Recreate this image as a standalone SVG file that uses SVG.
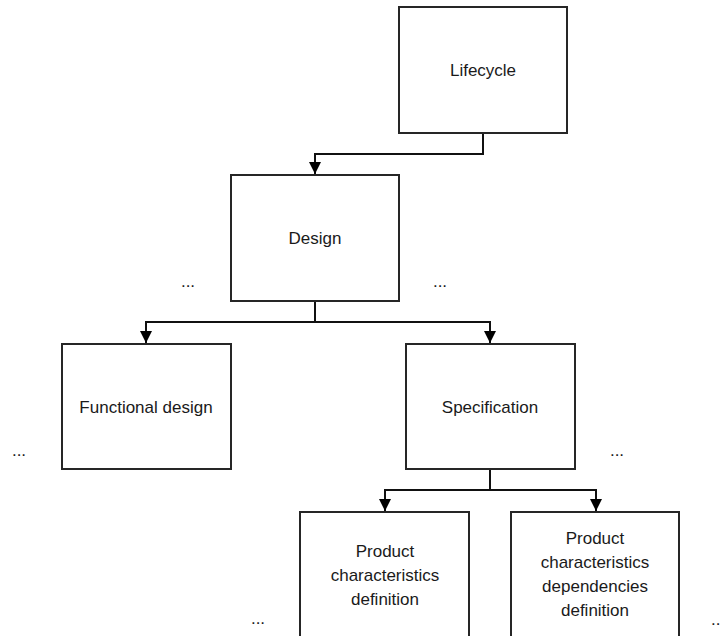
<svg xmlns="http://www.w3.org/2000/svg" width="723" height="636" viewBox="0 0 723 636">
<defs>
<style>
.box{fill:#fff;stroke:#262626;stroke-width:2}
.lbl{font-family:"Liberation Sans",Arial,sans-serif;font-size:17px;fill:#1a1a1a;text-anchor:middle}
.conn{fill:none;stroke:#111;stroke-width:2}
</style>
<marker id="arr" viewBox="0 0 12 12" refX="12" refY="6" markerWidth="12" markerHeight="12" markerUnits="userSpaceOnUse" orient="auto">
<path d="M0,0 L12,6 L0,12 Z" fill="#000"/>
</marker>
</defs>
<rect width="723" height="636" fill="#fff"/>
<g id="connectors">
<path class="conn" d="M483,133 V154 H315 V174" marker-end="url(#arr)"/>
<path class="conn" d="M315,301 V322"/>
<path class="conn" d="M146,322 H490"/>
<path class="conn" d="M146,321 V343" marker-end="url(#arr)"/>
<path class="conn" d="M490,321 V343" marker-end="url(#arr)"/>
<path class="conn" d="M490,469 V490"/>
<path class="conn" d="M385,490 H596"/>
<path class="conn" d="M385,489 V511" marker-end="url(#arr)"/>
<path class="conn" d="M596,489 V511" marker-end="url(#arr)"/>
</g>
<g id="lifecycle">
<rect class="box" x="399" y="7" width="168" height="126"/>
<text class="lbl" x="483" y="76">Lifecycle</text>
</g>
<g id="design">
<rect class="box" x="231" y="175" width="168" height="126"/>
<text class="lbl" x="315" y="244">Design</text>
</g>
<g id="functional-design">
<rect class="box" x="62" y="344" width="169" height="125"/>
<text class="lbl" x="146" y="413">Functional design</text>
</g>
<g id="specification">
<rect class="box" x="406" y="344" width="169" height="125"/>
<text class="lbl" x="490" y="413">Specification</text>
</g>
<g id="product-characteristics-definition">
<rect class="box" x="300" y="512" width="169" height="140"/>
<text class="lbl" x="385" y="557">Product</text>
<text class="lbl" x="385" y="581">characteristics</text>
<text class="lbl" x="385" y="605">definition</text>
</g>
<g id="product-characteristics-dependencies-definition">
<rect class="box" x="511" y="512" width="168" height="140"/>
<text class="lbl" x="595" y="544">Product</text>
<text class="lbl" x="595" y="568">characteristics</text>
<text class="lbl" x="595" y="592">dependencies</text>
<text class="lbl" x="595" y="616">definition</text>
</g>
<g id="ellipses">
<text class="lbl" x="188" y="287">...</text>
<text class="lbl" x="440" y="287">...</text>
<text class="lbl" x="19" y="456">...</text>
<text class="lbl" x="617" y="456">...</text>
<text class="lbl" x="258" y="624">...</text>
<text class="lbl" x="711" y="625" style="text-anchor:start">..</text>
</g>
</svg>
